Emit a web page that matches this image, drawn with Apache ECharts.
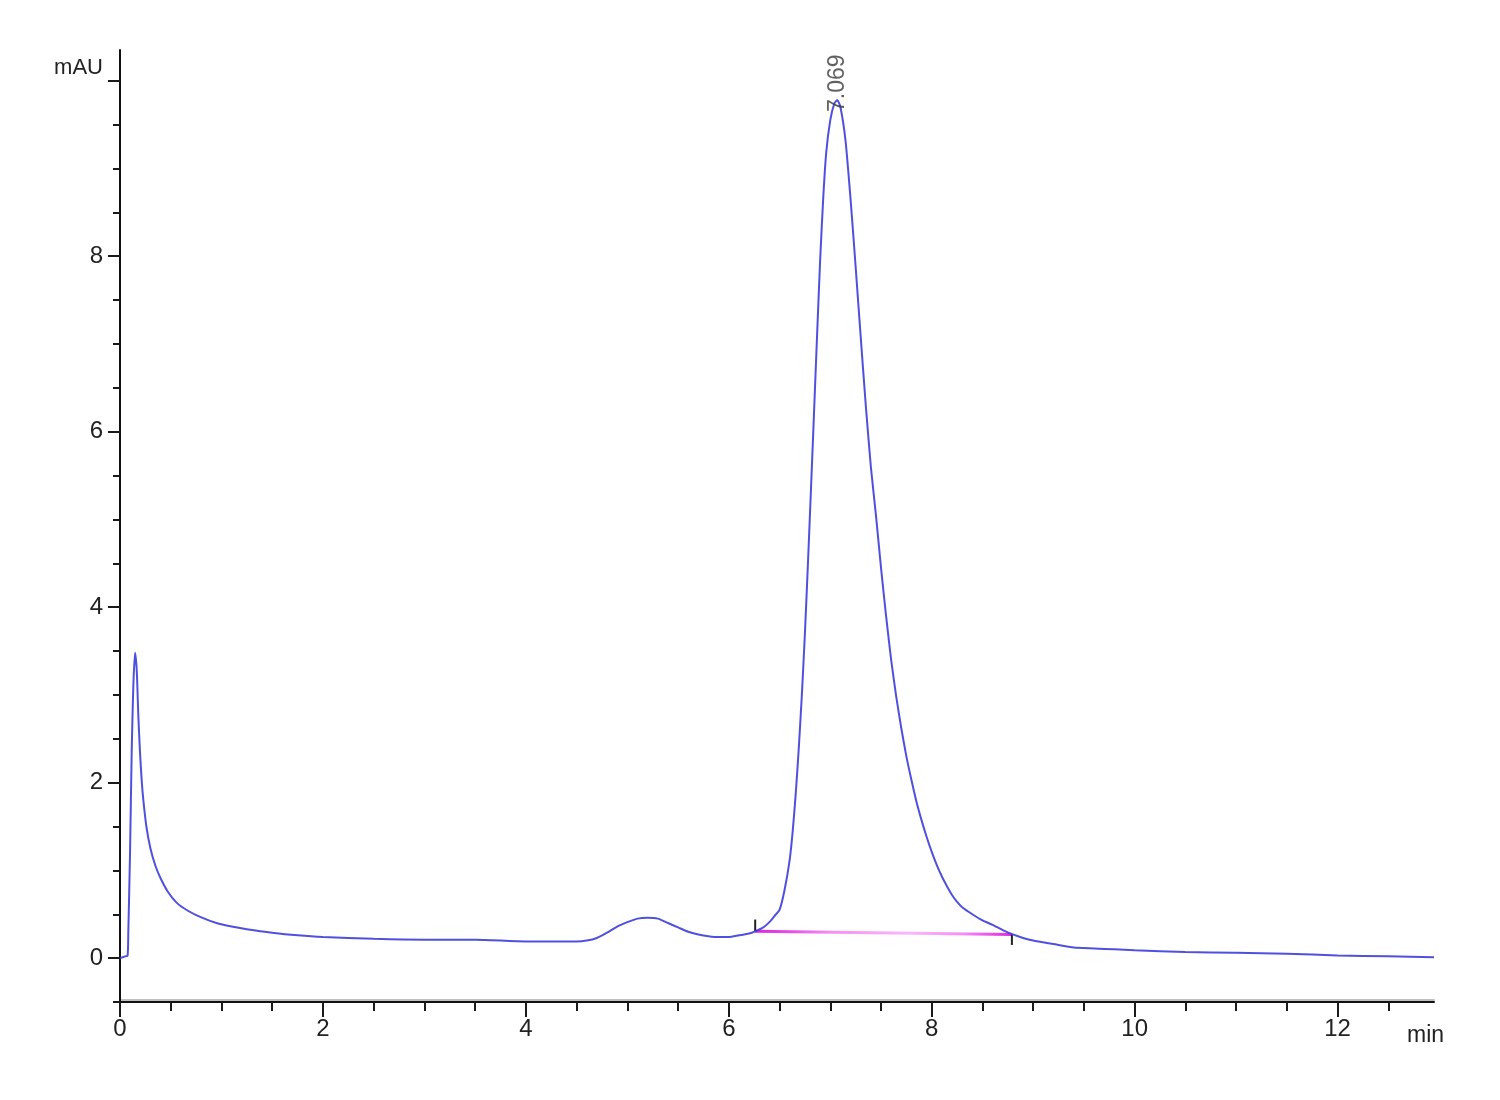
<!DOCTYPE html>
<html>
<head>
<meta charset="utf-8">
<script src="https://cdn.jsdelivr.net/npm/echarts@6/dist/echarts.min.js"></script>
<style>
html,body{margin:0;padding:0;background:#fff;}
#chart{width:1500px;height:1100px;}
</style>
</head>
<body>
<div id="chart"></div>
<script>
// Retention time (min)
var times = [0, 0.05, 0.075, 0.082, 0.099, 0.115, 0.131, 0.148, 0.165, 0.181, 0.197, 0.214, 0.23, 0.26, 0.30, 0.35, 0.40, 0.47, 0.56, 0.67, 0.79, 0.95,
  1.1, 1.25, 1.5, 1.75, 2.0, 2.5, 3.0, 3.5, 4.0, 4.5, 4.6, 4.7, 4.8, 4.9, 5.0, 5.1, 5.2, 5.3, 5.4, 5.5, 5.6, 5.7, 5.8, 5.9, 6.0, 6.1, 6.2,
  6.26, 6.34, 6.40, 6.45, 6.50, 6.55, 6.60, 6.63, 6.66, 6.69, 6.72, 6.75, 6.78, 6.81, 6.84, 6.87, 6.90, 6.93, 6.96, 7.00, 7.04, 7.069,
  7.10, 7.15, 7.20, 7.25, 7.30, 7.35, 7.40, 7.45, 7.50, 7.55, 7.60, 7.65, 7.70, 7.75, 7.80, 7.85, 7.90, 7.95, 8.00, 8.05, 8.10, 8.15, 8.20, 8.25, 8.30,
  8.40, 8.50, 8.60, 8.70, 8.80, 8.90, 9.0, 9.2, 9.4, 9.6, 9.8, 10.0, 10.5, 11.0, 11.5, 12.0, 12.5, 12.95];
// Absorbance (mAU)
var mau = [0, 0.02, 0.03, 0.3, 1.2, 2.34, 3.09, 3.48, 3.28, 2.75, 2.35, 2.02, 1.80, 1.50, 1.25, 1.05, 0.91, 0.76, 0.63, 0.54, 0.47, 0.40,
  0.36, 0.33, 0.29, 0.26, 0.24, 0.22, 0.21, 0.21, 0.19, 0.19, 0.20, 0.23, 0.29, 0.36, 0.41, 0.45, 0.46, 0.45, 0.40, 0.35, 0.30, 0.27, 0.25, 0.24, 0.24, 0.26, 0.28,
  0.305, 0.35, 0.41, 0.48, 0.55, 0.78, 1.12, 1.45, 1.88, 2.40, 3.00, 3.70, 4.50, 5.35, 6.22, 7.10, 7.95, 8.65, 9.18, 9.55, 9.74, 9.78,
  9.70, 9.32, 8.65, 7.88, 7.08, 6.30, 5.60, 5.05, 4.45, 3.90, 3.40, 2.98, 2.62, 2.30, 2.03, 1.78, 1.57, 1.38, 1.21, 1.06, 0.93, 0.82, 0.72, 0.64, 0.58,
  0.50, 0.43, 0.38, 0.32, 0.27, 0.23, 0.20, 0.16, 0.12, 0.11, 0.10, 0.09, 0.07, 0.06, 0.05, 0.03, 0.02, 0.01];

// Integration baseline of the main peak
var baseStart = [6.26, 0.305];
var baseEnd = [8.79, 0.27];
var baseStartTickTop = 0.44;
var baseEndTickBottom = 0.15;

// Peak annotation
var peakTime = 7.069;
var peakHeight = 9.78;
var peakLabel = '7.069';

// Axis ticks
var xMajorTicks = [0, 2, 4, 6, 8, 10, 12];
var xMinorTicks = [0.5, 1, 1.5, 2.5, 3, 3.5, 4.5, 5, 5.5, 6.5, 7, 7.5, 8.5, 9, 9.5, 10.5, 11, 11.5, 12.5];
var yMajorTicks = [0, 2, 4, 6, 8, 10];
var yLabelTicks = [0, 2, 4, 6, 8];
var yMinorTicks = [-0.5, 0.5, 1, 1.5, 2.5, 3, 3.5, 4.5, 5, 5.5, 6.5, 7, 7.5, 8.5, 9, 9.5];
var xMin = 0, xMax = 12.95, yMin = -0.5, yMax = 10.35;

var chromData = times.map(function (t, i) { return [t, mau[i]]; });

var labelFont = '"Liberation Sans", Arial, sans-serif';
var tickColor = '#1a1a1a';

var chart = echarts.init(document.getElementById('chart'), null, {renderer: 'canvas'});
chart.setOption({
  backgroundColor: '#ffffff',
  animation: false,
  grid: {left: 120, right: 66, top: 50, bottom: 98, containLabel: false},
  xAxis: [{
    type: 'value', min: xMin, max: xMax, position: 'bottom',
    name: 'min', nameLocation: 'end', nameGap: -27,
    nameTextStyle: {fontFamily: labelFont, fontSize: 23, color: '#222', align: 'left', verticalAlign: 'top', padding: [22, 0, 0, 0]},
    axisLine: {show: true, onZero: false, lineStyle: {color: '#111', width: 2, shadowColor: 'rgba(0,0,0,0.25)', shadowOffsetY: -2, shadowBlur: 0}},
    axisTick: {show: true, customValues: xMajorTicks, length: 15, lineStyle: {color: tickColor, width: 2}},
    axisLabel: {show: true, customValues: xMajorTicks, margin: 15, fontFamily: labelFont, fontSize: 24, color: '#222'},
    splitLine: {show: false}
  }, {
    type: 'value', min: xMin, max: xMax, position: 'bottom',
    axisLine: {show: false, onZero: false},
    axisTick: {show: true, customValues: xMinorTicks, length: 9, lineStyle: {color: tickColor, width: 2}},
    axisLabel: {show: false},
    splitLine: {show: false}
  }],
  yAxis: [{
    type: 'value', min: yMin, max: yMax, position: 'left',
    name: 'mAU', nameLocation: 'end', nameGap: -18,
    nameTextStyle: {fontFamily: labelFont, fontSize: 22, color: '#222', align: 'right', verticalAlign: 'middle', padding: [0, 17, 0, 0]},
    axisLine: {show: true, onZero: false, lineStyle: {color: '#111', width: 2}},
    axisTick: {show: true, customValues: yMajorTicks, length: 12, lineStyle: {color: tickColor, width: 2}},
    axisLabel: {show: true, customValues: yLabelTicks, margin: 17, fontFamily: labelFont, fontSize: 24, color: '#222'},
    splitLine: {show: false}
  }, {
    type: 'value', min: yMin, max: yMax, position: 'left',
    axisLine: {show: false, onZero: false},
    axisTick: {show: true, customValues: yMinorTicks, length: 7, lineStyle: {color: tickColor, width: 2}},
    axisLabel: {show: false},
    splitLine: {show: false}
  }],
  series: [{
    name: 'baseline', type: 'line', xAxisIndex: 0, yAxisIndex: 0,
    data: [baseStart, baseEnd], showSymbol: false, silent: true,
    lineStyle: {width: 3, color: new echarts.graphic.LinearGradient(0, 0, 1, 0, [
      {offset: 0, color: '#dd22dd'}, {offset: 0.15, color: '#e850e8'}, {offset: 0.3, color: '#f590f5'},
      {offset: 0.6, color: '#fab8fa'}, {offset: 0.8, color: '#f590f5'}, {offset: 1, color: '#dd22dd'}])},
    z: 2
  }, {
    name: 'startTick', type: 'line', data: [baseStart, [baseStart[0], baseStartTickTop]],
    showSymbol: false, silent: true, lineStyle: {width: 2, color: '#222'}, z: 3
  }, {
    name: 'endTick', type: 'line', data: [baseEnd, [baseEnd[0], baseEndTickBottom]],
    showSymbol: false, silent: true, lineStyle: {width: 2, color: '#222'}, z: 3
  }, {
    name: 'signal', type: 'line', xAxisIndex: 0, yAxisIndex: 0,
    data: chromData, showSymbol: false, smooth: 0.2,
    lineStyle: {width: 2, color: '#3d3ddc', opacity: 0.9},
    z: 4
  }, {
    name: 'peakLabel', type: 'scatter', data: [[peakTime, peakHeight]],
    symbolSize: 0, silent: true, z: 5,
    label: {show: true, formatter: peakLabel, position: 'bottom', distance: 12, rotate: 90,
      align: 'left', verticalAlign: 'middle',
      fontFamily: '"Liberation Sans", Arial, sans-serif', fontSize: 23, color: '#3a3a3a'}
  }]
});
</script>
</body>
</html>
